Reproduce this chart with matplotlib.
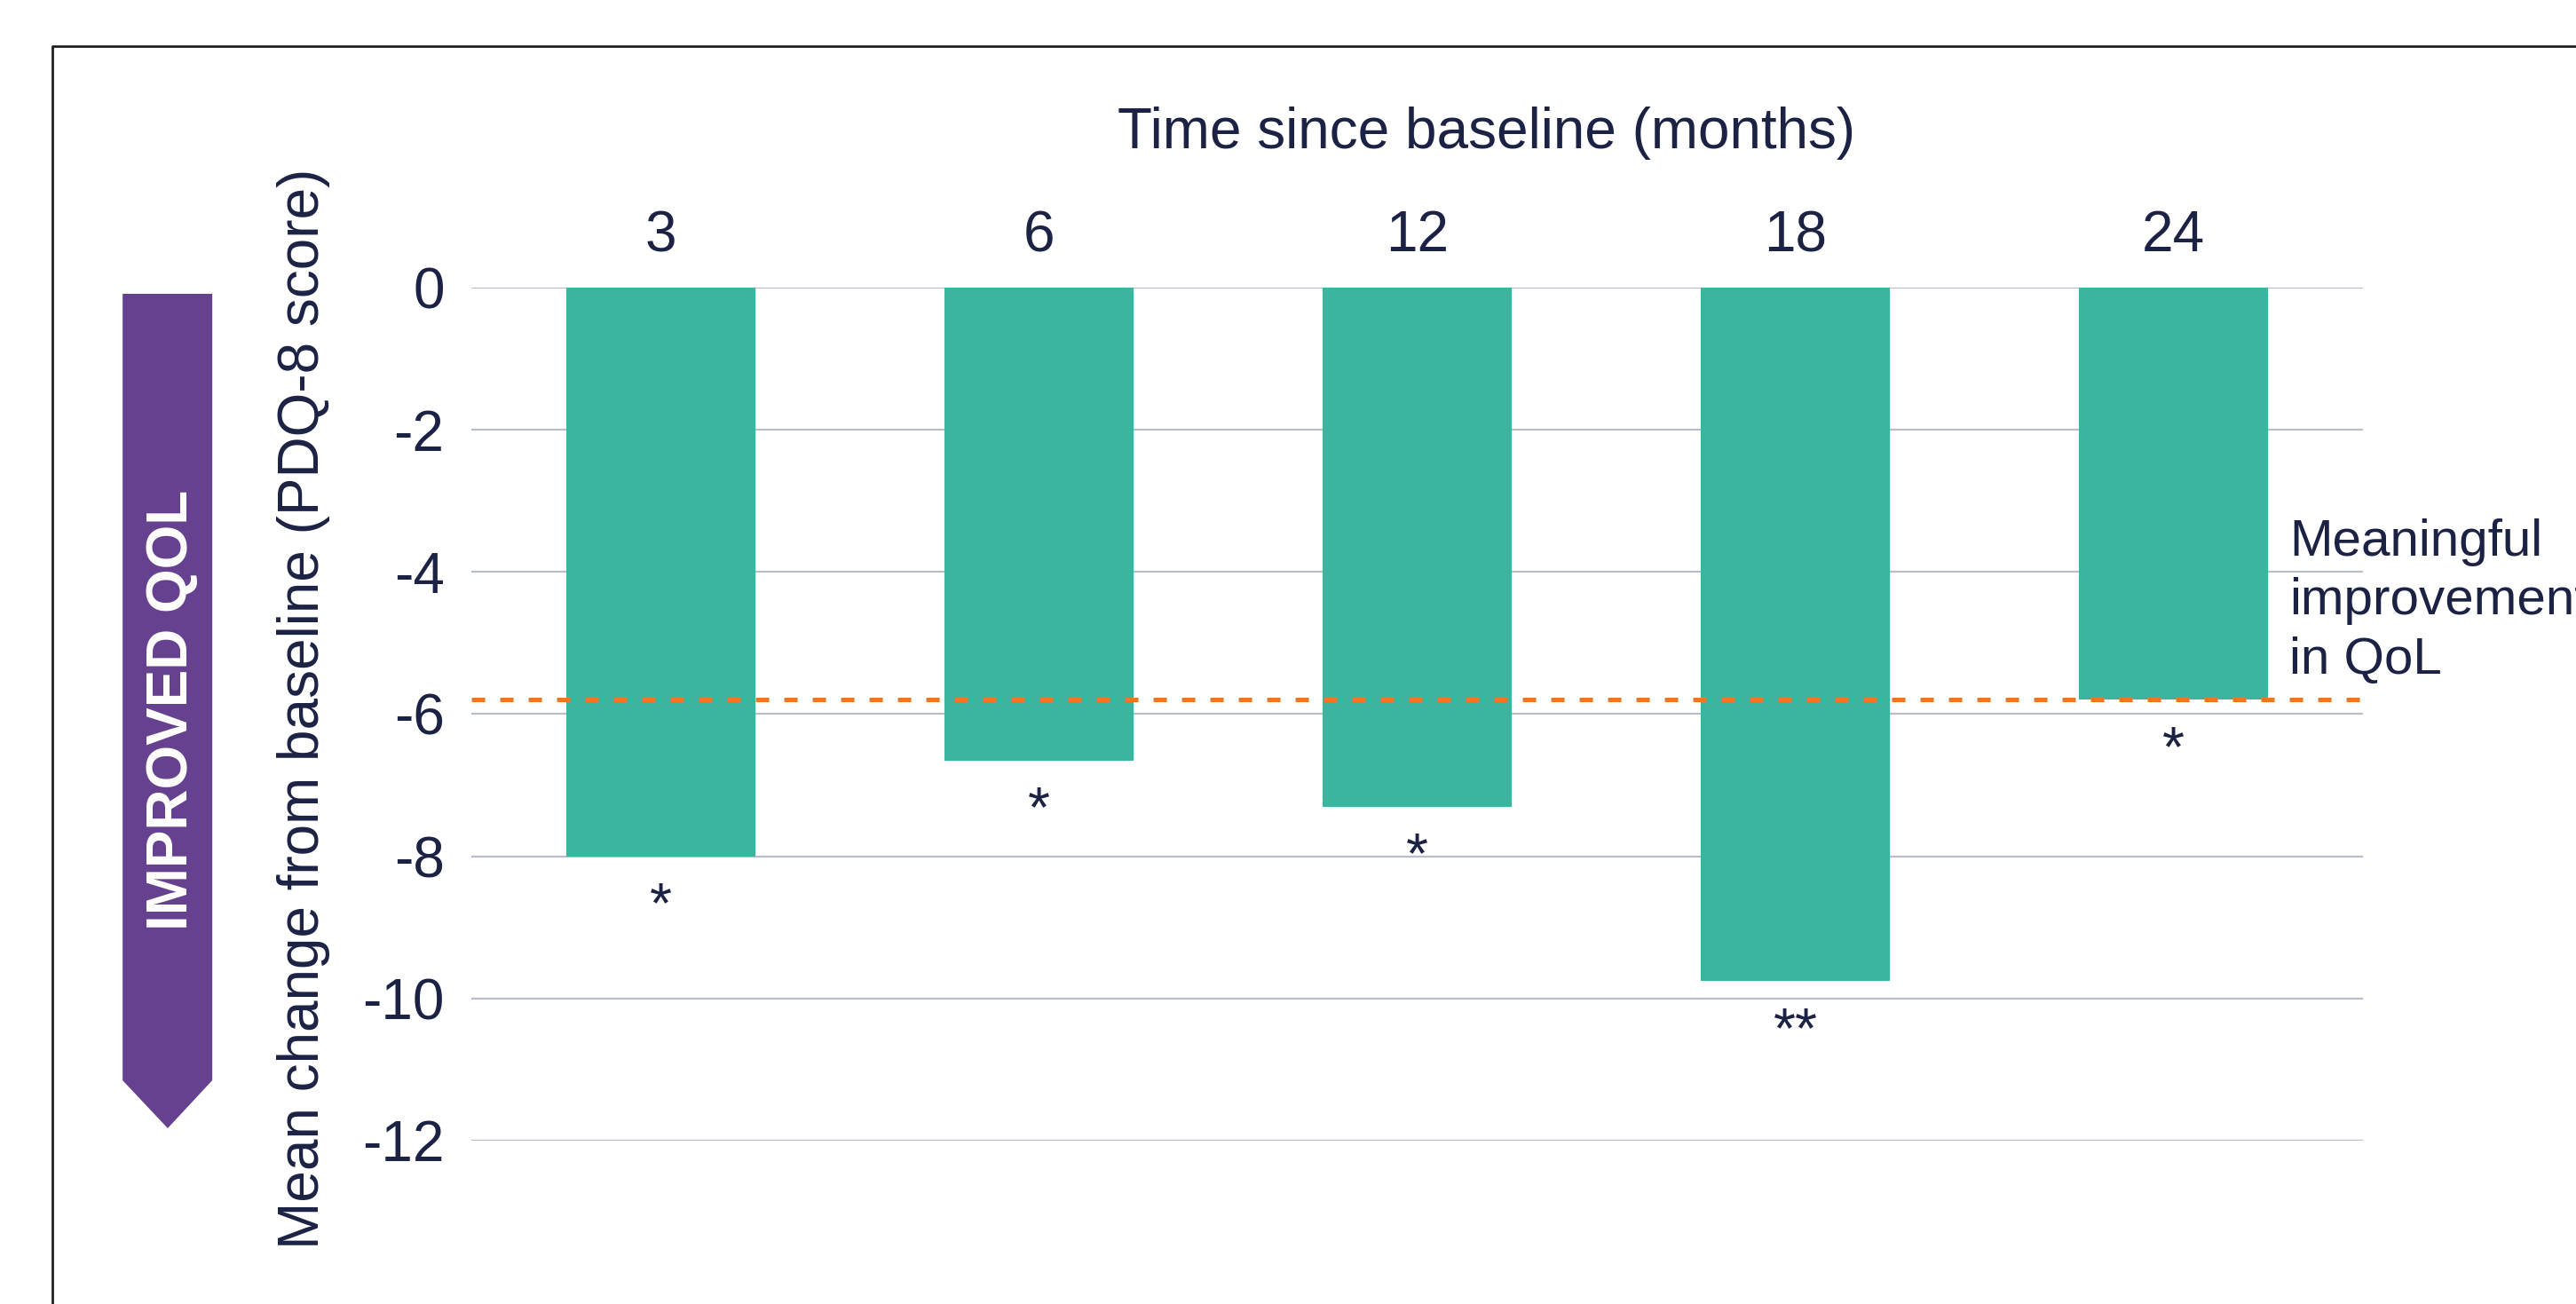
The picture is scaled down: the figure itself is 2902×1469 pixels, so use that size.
import matplotlib.pyplot as plt
from matplotlib.patches import Polygon
from matplotlib.lines import Line2D

plt.rcParams['font.family'] = ['Liberation Sans', 'DejaVu Sans']
plt.rcParams['axes.unicode_minus'] = False

# PDQ-8 mean change from baseline at each visit
months = ['3', '6', '12', '18', '24']
mean_change = [-8.0, -6.65, -7.3, -9.75, -5.8]
significance = ['*', '*', '*', '**', '*']
meaningful_threshold = -5.8
y_ticks = [0, -2, -4, -6, -8, -10, -12]

navy = '#1b2244'
teal = '#3bb59d'
orange = '#f07624'
purple = '#66418f'
grid_color = '#b9bdca'

fig = plt.figure(figsize=(14.51, 7.345), dpi=200)
ax = fig.add_axes([0.183, 0.1253, 0.7342, 0.6541])

x = list(range(len(months)))
ax.bar(x, mean_change, width=0.5, color=teal, zorder=2)
ax.axhline(meaningful_threshold, color=orange, lw=1.8, dashes=(3, 3.4), zorder=3)

# significance markers under each bar
for xi, val, sig in zip(x, mean_change, significance):
    ax.annotate(sig, (xi, val), xytext=(0, -27), textcoords='offset points',
                ha='center', va='baseline', fontsize=23, color=navy)

ax.set_xlim(-0.5, len(months) - 0.5)
ax.set_ylim(-12, 0)
ax.set_yticks(y_ticks)
ax.set_xticks(x)
ax.set_xticklabels(months)
ax.xaxis.tick_top()
ax.tick_params(axis='x', length=0, pad=10, labelsize=23, labelcolor=navy)
ax.tick_params(axis='y', length=0, pad=11, labelsize=23, labelcolor=navy)
ax.grid(axis='y', color=grid_color, lw=0.8)
ax.grid(axis='x', visible=False)
ax.set_axisbelow(True)
for s in ax.spines.values():
    s.set_visible(False)

fig.text(0.5772, 0.8863, 'Time since baseline (months)', ha='center', va='baseline',
         fontsize=23, color=navy)
fig.text(0.1179, 0.4568, 'Mean change from baseline (PDQ-8 score)', rotation=90,
         ha='center', va='center', fontsize=23, color=navy)
# label for the dashed threshold line, runs off the right edge
fig.text(0.8887, 0.4833, 'Meaningful\nimprovement\nin QoL', ha='left', va='baseline',
         fontsize=21, linespacing=1.3, color=navy)

# downward arrow banner on the left
arrow = Polygon([(0.0476, 0.7747), (0.0824, 0.7747), (0.0824, 0.1715),
                 (0.0651, 0.1348), (0.0476, 0.1715)],
                closed=True, transform=fig.transFigure, facecolor=purple, edgecolor='none')
fig.patches.append(arrow)
fig.text(0.0667, 0.4554, 'IMPROVED QOL', rotation=90, ha='center', va='center',
         fontsize=23, fontweight='bold', color='white')

# frame around the slide
fig.lines.append(Line2D([0.0205, 0.0205, 1.0], [0.0, 0.9646, 0.9646],
                        transform=fig.transFigure, color='#231f20', lw=1.0))

fig.savefig('out.png', dpi=200)
